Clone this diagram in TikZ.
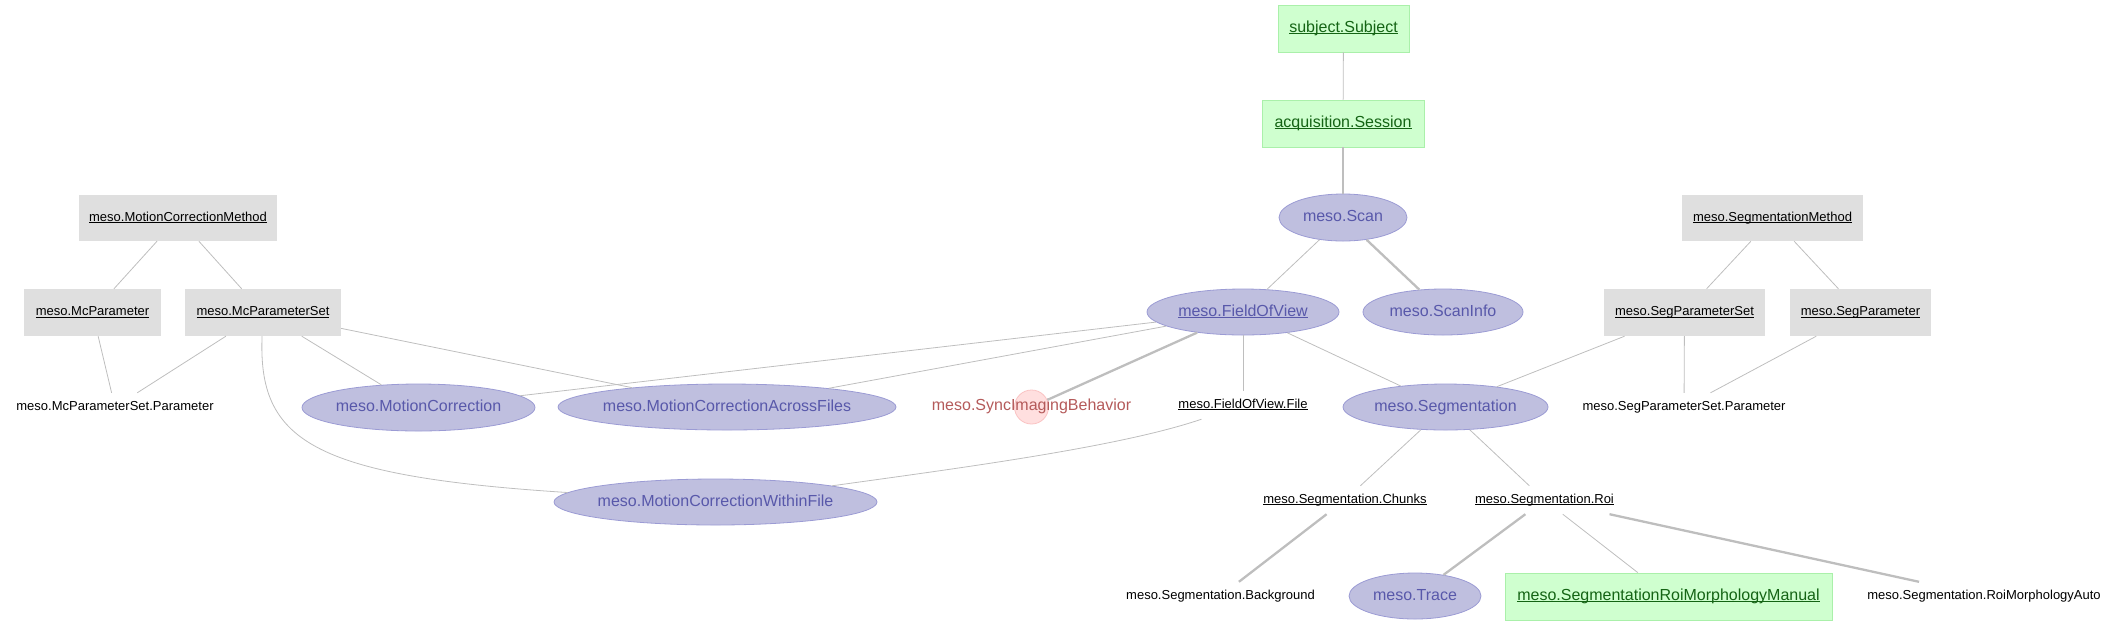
\documentclass[tikz,border=0pt]{standalone}
\usepackage{fontspec}
\setmainfont{Liberation Sans}
\usetikzlibrary{shapes.geometric}
\definecolor{lkfill}{RGB}{223,223,223}
\definecolor{mnfill}{RGB}{207,255,207}
\definecolor{mnline}{RGB}{170,240,170}
\definecolor{mntext}{RGB}{20,100,20}
\definecolor{imfill}{RGB}{191,191,223}
\definecolor{imline}{RGB}{155,155,212}
\definecolor{imtext}{RGB}{88,88,170}
\definecolor{cpfill}{RGB}{255,223,223}
\definecolor{cpline}{RGB}{250,195,195}
\definecolor{cptext}{RGB}{180,90,90}
\definecolor{edgec}{RGB}{190,190,190}
\newcommand\myul[1]{\setbox0=\hbox{#1}\rlap{\copy0}\rule[-1.9pt]{\wd0}{1.1pt}}
\newcommand\zw[1]{\makebox[0pt]{#1}}
\tikzset{
  big/.style={font=\fontsize{16}{19}\selectfont, text height=11.5pt, text depth=3.4pt},
  small/.style={font=\fontsize{13}{15}\selectfont, text height=9.4pt, text depth=2.7pt},
  lookup/.style={rectangle, fill=lkfill, inner sep=0pt, small, text=black},
  manual/.style={rectangle, fill=mnfill, draw=mnline, line width=0.8pt, inner sep=0pt, big, text=mntext},
  imported/.style={ellipse, fill=imfill, draw=imline, line width=0.8pt, inner sep=0pt, big, text=imtext},
  parttab/.style={rectangle, inner sep=0pt, inner xsep=2pt, minimum height=28pt, small, text=black},
  computed/.style={circle, fill=cpfill, draw=cpline, line width=0.8pt, inner sep=0pt, minimum size=34pt},
  thin/.style={draw=edgec, line width=0.8pt},
  thick/.style={draw=edgec, line width=2.3pt},
}
\begin{document}
\begin{tikzpicture}[x=1pt, y=-1pt]
\useasboundingbox (0,0) rectangle (2116,625);
% manual (green)
\node[manual, minimum width=131pt, minimum height=47pt] (subj) at (1343.5,28.5) {\myul{subject.Subject}};
\node[manual, minimum width=162pt, minimum height=47pt] (sess) at (1343,123.5) {\myul{acquisition.Session}};
\node[manual, minimum width=327pt, minimum height=47pt] (manual) at (1668.5,596.5) {\myul{meso.SegmentationRoiMorphologyManual}};
% lookup (gray)
\node[lookup, minimum width=198pt, minimum height=46pt] (mcm) at (178,218) {\myul{meso.MotionCorrectionMethod}};
\node[lookup, minimum width=137pt, minimum height=47pt] (mcp) at (92.5,312.5) {\myul{meso.McParameter}};
\node[lookup, minimum width=156pt, minimum height=47pt] (mcps) at (263,312.5) {\myul{meso.McParameterSet}};
\node[lookup, minimum width=181pt, minimum height=46pt] (segm) at (1772.5,218) {\myul{meso.SegmentationMethod}};
\node[lookup, minimum width=161pt, minimum height=47pt] (segps) at (1684.5,312.5) {\myul{meso.SegParameterSet}};
\node[lookup, minimum width=141pt, minimum height=47pt] (segp) at (1860.5,312.5) {\myul{meso.SegParameter}};
% imported (blue ellipses)
\node[imported, minimum width=128pt, minimum height=47pt] (scan) at (1343,217.5) {\zw{meso.Scan}};
\node[imported, minimum width=192pt, minimum height=46pt] (fov) at (1243,312) {\zw{\myul{meso.FieldOfView}}};
\node[imported, minimum width=160pt, minimum height=46pt] (scaninfo) at (1443,312) {\zw{meso.ScanInfo}};
\node[imported, minimum width=233pt, minimum height=47pt] (mc) at (418.5,407.5) {\zw{meso.MotionCorrection}};
\node[imported, minimum width=338pt, minimum height=46pt] (mcaf) at (727,407) {\zw{meso.MotionCorrectionAcrossFiles}};
\node[imported, minimum width=323pt, minimum height=46pt] (mcwf) at (715.5,502) {\zw{meso.MotionCorrectionWithinFile}};
\node[imported, minimum width=205pt, minimum height=46pt] (seg) at (1445.5,407) {\zw{meso.Segmentation}};
\node[imported, minimum width=132pt, minimum height=46pt] (trace) at (1415,596) {\zw{meso.Trace}};
% computed
\node[computed] (sync) at (1031.5,407) {};
\node[big, text=cptext, inner sep=0pt] (synctext) at (1031.5,406) {meso.SyncImagingBehavior};
% part tables
\node[parttab] (mcpsp) at (115,407) {meso.McParameterSet.Parameter};
\node[parttab] (fovfile) at (1243,405) {\myul{meso.FieldOfView.File}};
\node[parttab] (segpsp) at (1684,407) {meso.SegParameterSet.Parameter};
\node[parttab] (chunks) at (1345,500) {\myul{meso.Segmentation.Chunks}};
\node[parttab] (roi) at (1544.5,500) {\myul{meso.Segmentation.Roi}};
\node[parttab] (bg) at (1220.5,596) {meso.Segmentation.Background};
\node[parttab] (auto) at (1984,596) {meso.Segmentation.RoiMorphologyAuto};
% edges
\draw[thin] (subj) -- (sess);
\draw[thick] (sess) -- (scan);
\draw[thin] (scan) -- (fov);
\draw[thick] (scan) -- (scaninfo);
\draw[thin] (mcm) -- (mcp);
\draw[thin] (mcm) -- (mcps);
\draw[thin] (mcp) -- (mcpsp);
\draw[thin] (mcps) -- (mcpsp);
\draw[thin] (mcps) -- (mc);
\draw[thin] (mcps) -- (mcaf);
\draw[thin] (mcps) .. controls (258,440) and (310,476) .. (mcwf);
\draw[thin] (fov) -- (mc);
\draw[thin] (fov) -- (mcaf);
\draw[thick] (fov) -- (sync);
\draw[thin] (fov) -- (fovfile);
\draw[thin] (fov) -- (seg);
\draw[thin] (fovfile) .. controls (1120,447) and (960,468) .. (mcwf);
\draw[thin] (segm) -- (segps);
\draw[thin] (segm) -- (segp);
\draw[thin] (segps) -- (segpsp);
\draw[thin] (segp) -- (segpsp);
\draw[thin] (segps) -- (seg);
\draw[thin] (seg) -- (chunks);
\draw[thin] (seg) -- (roi);
\draw[thick] (chunks) -- (bg);
\draw[thick] (roi) -- (trace);
\draw[thin] (roi) -- (manual);
\draw[thick] (roi) -- (auto);
\end{tikzpicture}
\end{document}
